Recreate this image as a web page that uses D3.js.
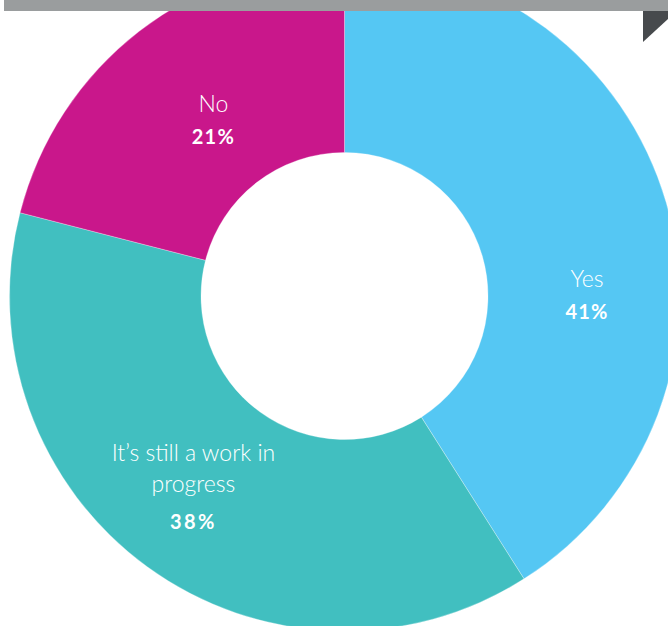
<!DOCTYPE html>
<html>
<head>
<meta charset="utf-8">
<script src="https://cdn.jsdelivr.net/npm/d3@7"></script>
<style>
  body { margin: 0; background: #fff; }
  svg { display: block; }
</style>
</head>
<body>
<div id="chart"></div>
<script>
// Survey answers, in clockwise order from 12 o'clock
const categories = ['Yes', "It’s still a work in progress", 'No'];
const values = [41, 38, 21];
const nameLines = [['Yes'], ['It’s still a work in', 'progress'], ['No']];
const percentLabels = ['41%', '38%', '21%'];

const width = 668;
const height = 626;
const cx = 344.5, cy = 296;
const outerR = 335, innerR = 143.5;

const colors = d3.scaleOrdinal()
    .domain(categories)
    .range(['#55c7f3', '#41bfc0', '#c9178b']);

// label nudges from the arc centroid (layout only)
const labelNudge = { 'Yes': [12, 58], "It’s still a work in progress": [-10, -29], 'No': [16, 6] };

const svg = d3.select('#chart').append('svg')
    .attr('width', width)
    .attr('height', height);

const g = svg.append('g')
    .attr('transform', 'translate(' + cx + ',' + cy + ')');

const pie = d3.pie().sort(null).value(d => d.value);
const data = categories.map((c, i) => ({ name: c, value: values[i], lines: nameLines[i], pct: percentLabels[i] }));
const arcs = pie(data);

const arc = d3.arc().innerRadius(innerR).outerRadius(outerR);
const labelArc = d3.arc().innerRadius(240).outerRadius(240);

g.selectAll('path.slice')
    .data(arcs)
    .enter().append('path')
    .attr('class', 'slice')
    .attr('d', arc)
    .style('fill', d => colors(d.data.name))
    .style('stroke', 'rgba(255,255,255,0.5)')
    .style('stroke-width', 0.6);

// labels
const labels = g.selectAll('g.label')
    .data(arcs)
    .enter().append('g')
    .attr('class', 'label')
    .attr('transform', d => {
        const c = labelArc.centroid(d);
        const n = labelNudge[d.data.name];
        return 'translate(' + (c[0] + n[0]) + ',' + (c[1] + n[1]) + ')';
    });

labels.each(function(d) {
    const lg = d3.select(this);
    d.data.lines.forEach((t, i) => {
        lg.append('text')
            .attr('x', 0)
            .attr('y', i * 31)
            .attr('text-anchor', 'middle')
            .style('font-family', 'Lato, "Open Sans", sans-serif')
            .style('font-weight', 300)
            .style('font-size', '23px')
            .style('fill', '#fff')
            .text(t);
    });
    const extra = d.data.lines.length > 1 ? 5 : 0;
    lg.append('text')
        .attr('x', 0)
        .attr('y', (d.data.lines.length - 1) * 31 + 32 + extra)
        .attr('text-anchor', 'middle')
        .style('font-family', 'Lato, "Open Sans", sans-serif')
        .style('font-weight', 700)
        .style('font-size', '20px')
        .style('letter-spacing', d.data.lines.length > 1 ? '2.5px' : '1.2px')
        .style('fill', '#fff')
        .text(d.data.pct);
});

// page decoration: grey rule and corner tab
svg.append('rect')
    .attr('x', 4).attr('y', 0)
    .attr('width', width - 4).attr('height', 11)
    .style('fill', '#9a9d9e');

svg.append('polygon')
    .attr('points', '643,11 668,11 668,19 643,42')
    .style('fill', '#474a4d');
</script>
</body>
</html>
